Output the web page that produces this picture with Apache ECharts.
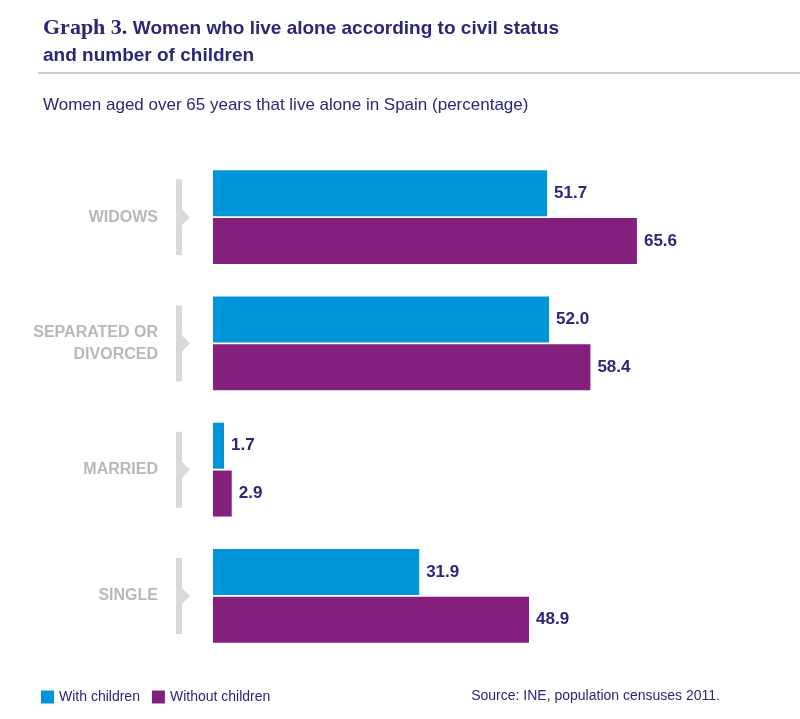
<!DOCTYPE html>
<html>
<head>
<meta charset="utf-8">
<script src="https://cdn.jsdelivr.net/npm/echarts@6/dist/echarts.min.js"></script>
<style>
    html, body { margin: 0; padding: 0; background: #fff; }
    #chart { width: 800px; height: 719px; }
</style>
</head>
<body>
<div id="chart"></div>
<script type="text/javascript">
    var categories = ['WIDOWS', 'SEPARATED OR\nDIVORCED', 'MARRIED', 'SINGLE'];
    var withChildren = [51.7, 52.0, 1.7, 31.9];
    var withoutChildren = [65.6, 58.4, 2.9, 48.9];

    var navy = '#2B2678';
    var myChart = echarts.init(document.getElementById('chart'));

    var option = {
        animation: false,
        title: [{
            left: 38, top: 10,
            text: '{a|Graph 3. }{b|Women who live alone according to civil status}\n{b|and number of children}',
            textStyle: {
                rich: {
                    a: {fontFamily: 'Liberation Serif', fontSize: 22, color: navy, lineHeight: 27},
                    b: {fontFamily: 'Liberation Sans', fontWeight: 'bold', fontSize: 19, color: navy, lineHeight: 27}
                }
            }
        }, {
            left: 38, top: 92,
            text: 'Women aged over 65 years that live alone in Spain (percentage)',
            textStyle: {fontFamily: 'Liberation Sans', fontWeight: 'normal', fontSize: 17, color: navy}
        }, {
            right: 75, top: 684,
            text: 'Source: INE, population censuses 2011.',
            textStyle: {fontFamily: 'Liberation Sans', fontWeight: 'normal', fontSize: 14, color: navy}
        }],
        legend: {
            left: 36, top: 685,
            itemWidth: 13, itemHeight: 13, itemGap: 12,
            icon: 'rect',
            textStyle: {fontFamily: 'Liberation Sans', fontSize: 14, color: navy},
            data: ['With children', 'Without children']
        },
        grid: {left: 213, right: 70, top: 154, bottom: 60},
        xAxis: {
            type: 'value', min: 0, max: 80,
            show: false
        },
        yAxis: {
            type: 'category', inverse: true,
            data: categories,
            axisLine: {show: false},
            axisTick: {show: false},
            axisLabel: {
                margin: 55,
                fontFamily: 'Liberation Sans', fontWeight: 'bold', fontSize: 16,
                color: '#B8B8B8', lineHeight: 22, align: 'right'
            }
        },
        series: [{
            name: 'With children', type: 'bar',
            data: withChildren, barWidth: 46, barGap: '4%',
            itemStyle: {color: '#0095DA'},
            label: {show: true, position: 'right', distance: 7, formatter: function (p) { return p.value.toFixed(1); },
                fontFamily: 'Liberation Sans', fontWeight: 'bold', fontSize: 17, color: navy}
        }, {
            name: 'Without children', type: 'bar',
            data: withoutChildren, barWidth: 46,
            itemStyle: {color: '#851F7E'},
            label: {show: true, position: 'right', distance: 7, formatter: function (p) { return p.value.toFixed(1); },
                fontFamily: 'Liberation Sans', fontWeight: 'bold', fontSize: 17, color: navy}
        }]
    };
    myChart.setOption(option);

    // separator line under the title and grey brackets beside each category
    var gfx = [{
        type: 'line', shape: {x1: 38, y1: 73, x2: 800, y2: 73},
        style: {stroke: '#999', lineWidth: 1}
    }];
    categories.forEach(function (c, i) {
        var y = myChart.convertToPixel({yAxisIndex: 0}, i);
        gfx.push({
            type: 'polygon',
            shape: {points: [[176, y - 38], [182, y - 38], [182, y - 8], [190, y], [182, y + 8], [182, y + 38], [176, y + 38]]},
            style: {fill: '#D9D9D9'}
        });
    });
    myChart.setOption({graphic: gfx});
</script>
</body>
</html>
